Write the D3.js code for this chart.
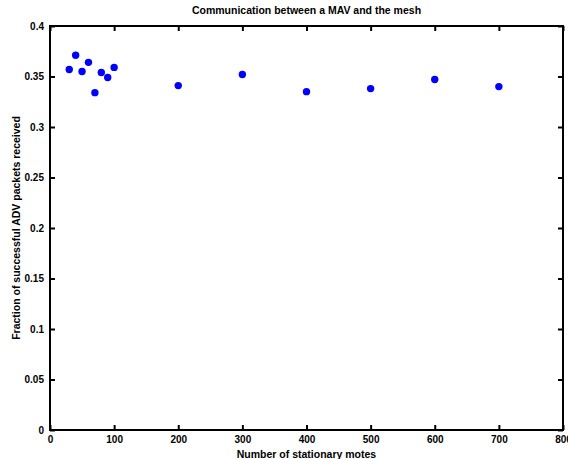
<!DOCTYPE html>
<html>
<head>
<meta charset="utf-8">
<script src="https://cdn.jsdelivr.net/npm/d3@7"></script>
<style>
  body { margin: 0; background: #fff; }
  text { font-family: "Liberation Sans", Arial, sans-serif; font-weight: bold; font-size: 10px; fill: #000; }
  text.label { font-size: 10.5px; }
</style>
</head>
<body>
<div id="chart-area"></div>
<script>
const motes = [30, 40, 50, 60, 70, 80, 90, 100, 200, 300, 400, 500, 600, 700];
const fraction = [0.357, 0.371, 0.355, 0.364, 0.334, 0.354, 0.349, 0.359, 0.341, 0.352, 0.335, 0.338, 0.347, 0.340];
const xTicks = [0, 100, 200, 300, 400, 500, 600, 700, 800];
const yTicks = [0, 0.05, 0.1, 0.15, 0.2, 0.25, 0.3, 0.35, 0.4];

const chartSize = { width: 568, height: 459 };
const margin = { left: 50, right: 5, top: 26, bottom: 29 };
const width = chartSize.width - margin.left - margin.right;
const height = chartSize.height - margin.top - margin.bottom;

const svg = d3
  .select("#chart-area")
  .append("svg")
  .attr("width", chartSize.width)
  .attr("height", chartSize.height);

const g = svg.append("g").attr("transform", `translate(${margin.left},${margin.top})`);

const x = d3.scaleLinear().domain([0, 800]).range([0, width]);
const y = d3.scaleLinear().domain([0, 0.4]).range([height, 0]);

const fmt = d => (d === 0 ? "0" : String(+d.toFixed(2)));

// axes with ticks pointing inward (MATLAB style box)
const styleAxis = sel => {
  sel.select(".domain").remove();
  sel.selectAll(".tick line").attr("stroke", "#000").attr("stroke-width", 2);
};

g.append("g")
  .attr("transform", `translate(0,${height})`)
  .call(d3.axisBottom(x).tickValues(xTicks).tickFormat(d3.format("d")).tickSizeInner(-5).tickSizeOuter(0).tickPadding(6))
  .call(styleAxis)
  .call(a => a.selectAll("text").attr("dy", "0.71em").attr("y", 6));

g.append("g")
  .call(d3.axisTop(x).tickValues(xTicks).tickFormat("").tickSizeInner(-5).tickSizeOuter(0))
  .call(styleAxis);

g.append("g")
  .call(d3.axisLeft(y).tickValues(yTicks).tickFormat(fmt).tickSizeInner(-5).tickSizeOuter(0).tickPadding(6))
  .call(styleAxis);

g.append("g")
  .attr("transform", `translate(${width},0)`)
  .call(d3.axisRight(y).tickValues(yTicks).tickFormat("").tickSizeInner(-5).tickSizeOuter(0))
  .call(styleAxis);

g.selectAll("text").attr("font-family", null).attr("font-size", null);

g.append("rect")
  .attr("width", width)
  .attr("height", height)
  .attr("fill", "none")
  .attr("stroke", "#000")
  .attr("stroke-width", 2);

g.selectAll(".pt")
  .data(motes)
  .enter()
  .append("circle")
  .attr("class", "pt")
  .attr("cx", d => x(d))
  .attr("cy", (d, i) => y(fraction[i]))
  .attr("r", 3.7)
  .attr("fill", "#0000ff");

g.append("text")
  .attr("class", "label")
  .attr("x", width / 2)
  .attr("y", -12)
  .attr("text-anchor", "middle")
  .text("Communication between a MAV and the mesh");

g.append("text")
  .attr("class", "label")
  .attr("x", width / 2)
  .attr("y", height + 28)
  .attr("text-anchor", "middle")
  .text("Number of stationary motes");

g.append("text")
  .attr("class", "label")
  .attr("transform", "rotate(-90)")
  .attr("x", -height / 2)
  .attr("y", -30)
  .attr("text-anchor", "middle")
  .text("Fraction of successful ADV packets received");
</script>
</body>
</html>
